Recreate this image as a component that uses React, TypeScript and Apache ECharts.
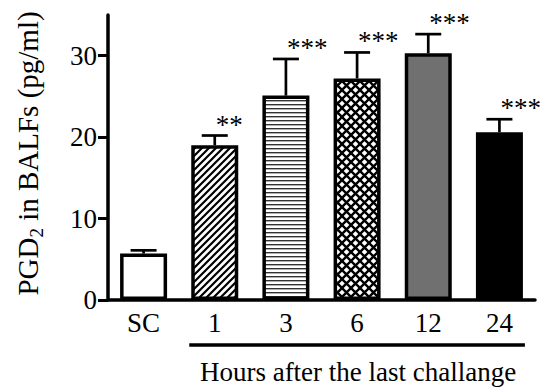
import React, { useEffect, useRef } from "react";
import * as echarts from "echarts";

const categories = ["SC", "1", "3", "6", "12", "24"];
const means = [5.7, 19.0, 25.1, 27.2, 30.3, 20.6];
const errTops = [6.1, 20.2, 29.6, 30.4, 32.65, 22.2];
const stars = ["", "**", "***", "***", "***", "***"];
const yTicks = [0, 10, 20, 30];
const xTitle = "Hours after the last challange";

const FONT = "Liberation Serif";

function makePattern(kind: string) {
  const c = document.createElement("canvas");
  if (kind === "diag") {
    const s = 7;
    c.width = s; c.height = s;
    const g = c.getContext("2d")!;
    g.fillStyle = "#fff"; g.fillRect(0, 0, s, s);
    g.strokeStyle = "#000"; g.lineWidth = 2.2;
    g.beginPath();
    g.moveTo(-1, s + 1); g.lineTo(s + 1, -1);
    g.moveTo(-2, 2); g.lineTo(2, -2);
    g.moveTo(s - 2, s + 2); g.lineTo(s + 2, s - 2);
    g.stroke();
  } else if (kind === "horiz") {
    c.width = 4; c.height = 4;
    const g = c.getContext("2d")!;
    g.fillStyle = "#fff"; g.fillRect(0, 0, 4, 4);
    g.fillStyle = "#333"; g.fillRect(0, 0, 4, 1.4);
  } else {
    const s = 9;
    c.width = s; c.height = s;
    const g = c.getContext("2d")!;
    g.fillStyle = "#fff"; g.fillRect(0, 0, s, s);
    g.strokeStyle = "#000"; g.lineWidth = 2.4;
    g.beginPath();
    g.moveTo(-1, -1); g.lineTo(s + 1, s + 1);
    g.moveTo(s + 1, -1); g.lineTo(-1, s + 1);
    g.stroke();
  }
  return { image: c, repeat: "repeat", imageWidth: c.width, imageHeight: c.height } as any;
}

export default function App() {
  const ref = useRef<HTMLDivElement>(null);
  useEffect(() => {
    document.body.style.margin = "0";
    const chart = echarts.init(ref.current!, undefined, { renderer: "svg" });
    const fills: any[] = [
      "#ffffff",
      makePattern("diag"),
      makePattern("horiz"),
      makePattern("cross"),
      "#707070",
      "#000000",
    ];
    const barWidth = 47;
    chart.setOption({
      animation: false,
      textStyle: { fontFamily: FONT },
      grid: { left: 108, right: 6, top: 15, bottom: 88 },
      xAxis: {
        type: "category",
        data: categories,
        axisLine: { lineStyle: { color: "#000", width: 3.5 } },
        axisTick: { show: false },
        axisLabel: { color: "#000", fontSize: 27, fontFamily: FONT, margin: 9 },
      },
      yAxis: {
        type: "value",
        min: 0,
        max: 35,
        interval: 10,
        splitLine: { show: false },
        axisLine: { show: true, lineStyle: { color: "#000", width: 3.5 } },
        axisTick: { show: true, length: 10, lineStyle: { color: "#000", width: 3 }, customValues: yTicks },
        axisLabel: { color: "#000", fontSize: 27, fontFamily: FONT, margin: 11, customValues: yTicks },
      },
      series: [
        {
          type: "bar",
          barWidth,
          data: means.map((v, i) => ({
            value: v,
            itemStyle: { color: fills[i], borderColor: "#000", borderWidth: 3.5 },
          })),
        },
        {
          type: "custom",
          z: 5,
          data: means.map((v, i) => [i, v, errTops[i]]),
          renderItem: (params: any, api: any) => {
            const idx = api.value(0);
            const p0 = api.coord([idx, api.value(1)]);
            const p1 = api.coord([idx, api.value(2)]);
            const half = 13;
            const ls = { stroke: "#000", lineWidth: 2.7 };
            return {
              type: "group",
              children: [
                { type: "line", shape: { x1: p0[0], y1: p0[1], x2: p1[0], y2: p1[1] }, style: ls },
                { type: "line", shape: { x1: p1[0] - half, y1: p1[1], x2: p1[0] + half, y2: p1[1] }, style: ls },
                {
                  type: "text",
                  x: p1[0] + 1,
                  y: p1[1] - 11,
                  style: {
                    text: stars[idx],
                    fontSize: 27,
                    fontFamily: FONT,
                    fill: "#000",
                    align: "left",
                    verticalAlign: "middle",
                  },
                },
              ],
            };
          },
        },
      ],
    });
    const x1 = chart.convertToPixel({ xAxisIndex: 0 }, categories[1]) as number;
    const x2 = chart.convertToPixel({ xAxisIndex: 0 }, categories[categories.length - 1]) as number;
    const y0 = chart.convertToPixel({ yAxisIndex: 0 }, 0) as number;
    const halfOuter = barWidth / 2 + 2;
    chart.setOption({
      graphic: [
        {
          type: "line",
          shape: { x1: x1 - halfOuter, y1: y0 + 45, x2: x2 + halfOuter, y2: y0 + 45 },
          style: { stroke: "#000", lineWidth: 3.5 },
        },
        {
          type: "text",
          x: (x1 + x2) / 2 + 1,
          y: y0 + 72,
          style: {
            text: xTitle,
            fontSize: 27,
            fontFamily: FONT,
            fill: "#000",
            align: "center",
            verticalAlign: "middle",
          },
        },
        {
          type: "text",
          x: 28,
          y: 153.5,
          rotation: Math.PI / 2,
          style: {
            text: "{a|PGD}{b|2}{a| in BALFs (pg/ml)}",
            align: "center",
            verticalAlign: "middle",
            rich: {
              a: { fontSize: 29, fontFamily: FONT, fill: "#000", lineHeight: 36, verticalAlign: "middle" },
              b: { fontSize: 19, fontFamily: FONT, fill: "#000", lineHeight: 36, verticalAlign: "bottom" },
            },
          },
        },
      ],
    });
    return () => chart.dispose();
  }, []);
  return <div ref={ref} style={{ position: "absolute", left: 0, top: 0, width: 541, height: 388 }} />;
}
